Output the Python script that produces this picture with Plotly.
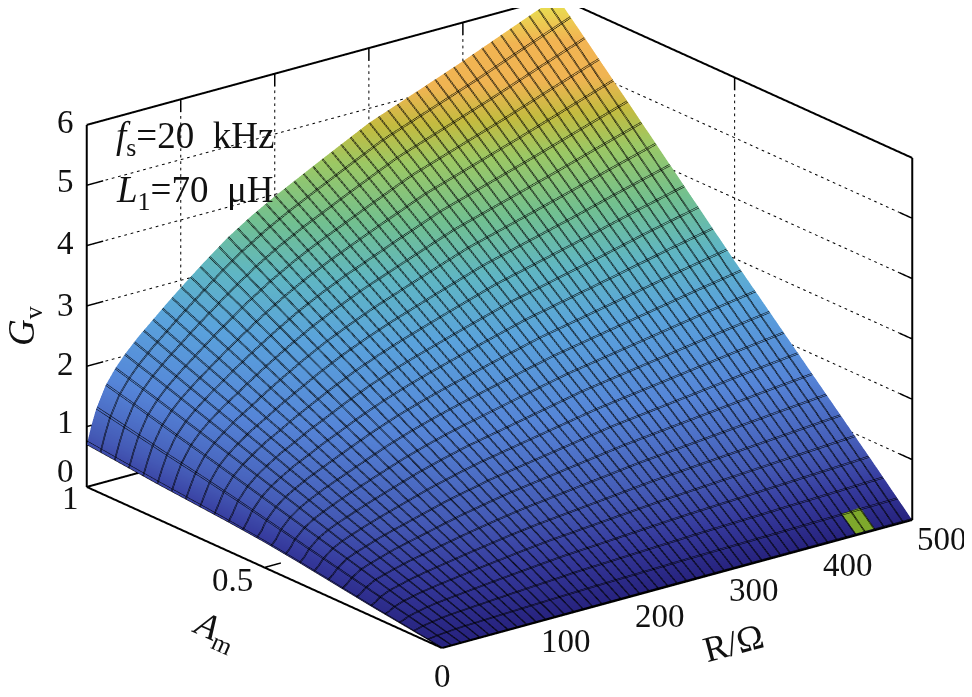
import plotly.graph_objects as go

# Values
r_values = [0, 5, 10, 20, 30, 40, 55, 70, 85, 100, 125, 150, 175, 200, 250, 300, 350, 400, 450, 500]
am_values = [0, 0.1, 0.2, 0.3, 0.4, 0.5, 0.6, 0.7, 0.8, 0.9, 1.0]
gv_rows = [
    [0] * 20,
    [0.08, 0.10, 0.13, 0.16, 0.19, 0.21, 0.23, 0.25, 0.27, 0.29, 0.32, 0.35, 0.38, 0.40, 0.44, 0.48, 0.51, 0.54, 0.57, 0.60],
    [0.16, 0.20, 0.26, 0.33, 0.37, 0.41, 0.46, 0.50, 0.54, 0.58, 0.64, 0.70, 0.75, 0.79, 0.87, 0.95, 1.01, 1.07, 1.13, 1.19],
    [0.25, 0.31, 0.39, 0.50, 0.56, 0.61, 0.69, 0.75, 0.81, 0.87, 0.97, 1.05, 1.13, 1.19, 1.31, 1.43, 1.52, 1.61, 1.70, 1.78],
    [0.34, 0.41, 0.52, 0.66, 0.75, 0.82, 0.91, 1.00, 1.08, 1.16, 1.29, 1.40, 1.50, 1.58, 1.74, 1.90, 2.02, 2.14, 2.26, 2.37],
    [0.42, 0.51, 0.65, 0.82, 0.94, 1.03, 1.15, 1.25, 1.35, 1.45, 1.61, 1.75, 1.87, 1.98, 2.18, 2.37, 2.52, 2.67, 2.82, 2.96],
    [0.48, 0.62, 0.78, 0.98, 1.12, 1.23, 1.38, 1.50, 1.63, 1.74, 1.93, 2.10, 2.25, 2.38, 2.62, 2.85, 3.03, 3.21, 3.40, 3.57],
    [0.53, 0.72, 0.90, 1.14, 1.30, 1.43, 1.60, 1.74, 1.89, 2.03, 2.25, 2.45, 2.62, 2.78, 3.06, 3.33, 3.54, 3.75, 3.97, 4.18],
    [0.58, 0.81, 1.01, 1.29, 1.48, 1.63, 1.82, 1.99, 2.16, 2.32, 2.57, 2.80, 3.00, 3.18, 3.50, 3.81, 4.05, 4.29, 4.54, 4.79],
    [0.64, 0.90, 1.13, 1.45, 1.66, 1.83, 2.04, 2.23, 2.42, 2.60, 2.89, 3.15, 3.38, 3.58, 3.94, 4.29, 4.56, 4.83, 5.12, 5.40],
    [0.70, 1.00, 1.25, 1.60, 1.83, 2.02, 2.26, 2.47, 2.68, 2.88, 3.20, 3.50, 3.75, 3.97, 4.37, 4.76, 5.06, 5.36, 5.68, 6.00],
]
patch_r = [440, 450, 460]
patch_am = [0, 0.04]
patch_gv = [[0.02, 0.02, 0.02], [0.25, 0.26, 0.27]]

r_ticks = [0, 100, 200, 300, 400, 500]
am_ticks = [0, 0.5, 1]
am_labels = ["", "0.5", "1"]
gv_ticks = [0, 1, 2, 3, 4, 5, 6]

colors = [
    [0.00, "#27237f"], [0.07, "#35399c"], [0.14, "#4459b5"], [0.28, "#5585d8"],
    [0.42, "#5aa3dc"], [0.52, "#5fb6c4"], [0.62, "#72c090"], [0.72, "#9cc864"],
    [0.79, "#c4bb40"], [0.85, "#f0b452"], [0.92, "#f2b452"], [1.00, "#e6e650"],
]

RMIN, RMAX = r_ticks[0], r_ticks[-1]
AMIN, AMAX = am_ticks[0], am_ticks[-1]
ZMIN, ZMAX = gv_ticks[0], gv_ticks[-1]
MESH = "#000000"
MESH_W = 3
FLAT = dict(ambient=1, diffuse=0, specular=0, fresnel=0, roughness=1)

fig = go.Figure()
fig.add_trace(go.Surface(
    x=r_values, y=am_values, z=gv_rows, cmin=0, cmax=6, colorscale=colors, showscale=False,
    hoverinfo="skip", lighting=FLAT,
    contours=dict(
        x=dict(show=True, start=0, end=500, size=10, color=MESH, width=MESH_W, highlight=False),
        y=dict(show=True, start=0, end=1, size=0.04, color=MESH, width=MESH_W, highlight=False),
        z=dict(show=False, highlight=False),
    ),
))
# WebGL draws contour lines one pixel wide: a contour-only copy, slightly offset, makes them bolder.
fig.add_trace(go.Surface(
    x=r_values, y=am_values, z=gv_rows, cmin=0, cmax=6, colorscale=colors, showscale=False,
    hoverinfo="skip", lighting=FLAT, hidesurface=True,
    contours=dict(
        x=dict(show=True, start=0.9, end=500, size=10, color=MESH, width=MESH_W, highlight=False),
        y=dict(show=True, start=0.0025, end=1, size=0.04, color=MESH, width=MESH_W, highlight=False),
        z=dict(show=False, highlight=False),
    ),
))
fig.add_trace(go.Surface(
    x=patch_r, y=patch_am, z=patch_gv, showscale=False, hoverinfo="skip",
    colorscale=[[0, "#7ea82c"], [1, "#7ea82c"]], lighting=FLAT,
    contours=dict(x=dict(show=True, start=440, end=460, size=10, color=MESH, width=MESH_W, highlight=False),
                  y=dict(show=True, start=0, end=0.04, size=0.04, color=MESH, width=MESH_W, highlight=False),
                  z=dict(show=False, highlight=False)),
))


def segs(lines):
    xs, ys, zs = [], [], []
    for a, b in lines:
        xs += [a[0], b[0], None]
        ys += [a[1], b[1], None]
        zs += [a[2], b[2], None]
    return xs, ys, zs


def add_lines(lines, width=2):
    xs, ys, zs = segs(lines)
    fig.add_trace(go.Scatter3d(x=xs, y=ys, z=zs, mode="lines", hoverinfo="skip", showlegend=False,
                               line=dict(color="black", width=width)))


def dots(a, b, n):
    out = []
    for i in range(n):
        t0 = i / n
        t1 = (i + 0.42) / n
        out.append((tuple(p + (q - p) * t0 for p, q in zip(a, b)),
                    tuple(p + (q - p) * t1 for p, q in zip(a, b))))
    return out


# Box: floor and the two back walls
box = [
    ((RMIN, AMIN, ZMIN), (RMAX, AMIN, ZMIN)), ((RMIN, AMIN, ZMIN), (RMIN, AMAX, ZMIN)),
    ((RMIN, AMAX, ZMIN), (RMAX, AMAX, ZMIN)), ((RMAX, AMIN, ZMIN), (RMAX, AMAX, ZMIN)),
    ((RMIN, AMAX, ZMIN), (RMIN, AMAX, ZMAX)), ((RMAX, AMIN, ZMIN), (RMAX, AMIN, ZMAX)),
    ((RMAX, AMAX, ZMIN), (RMAX, AMAX, ZMAX)),
    ((RMIN, AMAX, ZMAX), (RMAX, AMAX, ZMAX)), ((RMAX, AMIN, ZMAX), (RMAX, AMAX, ZMAX)),
]
add_lines(box, width=4)

grid, stubs = [], []
ds = 0.035
for g in gv_ticks[1:-1]:
    grid += dots((RMIN, AMAX, g), (RMAX, AMAX, g), 75)
    grid += dots((RMAX, AMIN, g), (RMAX, AMAX, g), 60)
    stubs.append(((RMIN, AMAX, g), (RMIN + ds * RMAX, AMAX, g)))
    stubs.append(((RMAX, AMIN, g), (RMAX, AMIN + ds, g)))
for r in r_ticks[1:-1]:
    grid += dots((r, AMAX, ZMIN), (r, AMAX, ZMAX), 56)
    stubs.append(((r, AMAX, ZMAX), (r, AMAX, ZMAX - ds * ZMAX)))
    stubs.append(((r, AMIN, ZMIN), (r, AMIN + ds, ZMIN)))
for a in am_ticks[1:-1]:
    grid += dots((RMAX, a, ZMIN), (RMAX, a, ZMAX), 56)
    stubs.append(((RMAX, a, ZMAX), (RMAX, a, ZMAX - ds * ZMAX)))
    stubs.append(((RMIN, a, ZMIN), (RMIN + ds * RMAX, a, ZMIN)))
add_lines(grid, width=2)
add_lines(stubs, width=3)

axis = dict(showbackground=False, showgrid=False, zeroline=False, showline=False, ticks="",
            showspikes=False, showticklabels=False, title=dict(text=""), autorange=False)


def tick(x, y, z, text, dx, dy):
    return dict(x=x, y=y, z=z, text=text, showarrow=False, xshift=dx, yshift=dy,
                font=dict(family="Liberation Serif", size=33, color="#111111"))


z_nudge = {0: 16, 1: 5, 2: 2, 3: 1, 4: 3, 5: 4, 6: 3}
tick_notes = (
    [tick(r, AMIN, ZMIN, str(r), 30, -19) for r in r_ticks[1:]]
    + [tick(RMIN, AMIN, ZMIN, "0", 0, -28)]
    + [tick(RMIN, 0.5, ZMIN, "0.5", -32, -13), tick(RMIN, 1, ZMIN, "1", -16, -11)]
    + [tick(RMIN, AMAX, g, str(g), -21, z_nudge[g]) for g in gv_ticks]
)

SCALE = 1.707
CENTER = dict(x=-0.0335, y=-0.0175, z=-0.0915)
scene = dict(
    domain=dict(x=[0, 1], y=[0, 1]),
    xaxis=dict(axis, range=[RMIN, RMAX]),
    yaxis=dict(axis, range=[AMIN, AMAX]),
    zaxis=dict(axis, range=[ZMIN, ZMAX]),
    aspectmode="manual",
    aspectratio=dict(x=1 * SCALE, y=0.975 * SCALE, z=0.65 * SCALE),
    camera=dict(projection=dict(type="orthographic"), up=dict(x=0, y=0, z=1),
                eye=dict(x=-0.5736 * 3 + CENTER["x"], y=-0.7401 * 3 + CENTER["y"], z=0.3514 * 3 + CENTER["z"]),
                center=CENTER),
    annotations=tick_notes,
)


def note(x, y, text, angle=0, size=33, anchor="center"):
    return dict(x=x / 972, y=1 - y / 697, xref="paper", yref="paper", text=text, showarrow=False,
                textangle=angle, xanchor=anchor, yanchor="middle",
                font=dict(family="Liberation Serif", size=size, color="#111111"))


fig.update_layout(
    width=972, height=697, margin=dict(l=0, r=0, t=0, b=0), paper_bgcolor="white", showlegend=False,
    scene=scene,
    annotations=[
        note(106, 130, "<i>f</i><sub>s</sub>=20\u2002kHz", size=37, anchor="left"),
        note(106, 185, "<i>L</i><sub>1</sub>=70\u2002μH", size=37, anchor="left"),
        note(16, 318, "<i>G</i><sub>v</sub>", angle=-90, size=37),
        note(207, 623, "<i>A</i><sub>m</sub>", angle=24, size=36),
        note(725, 635, "R/Ω", angle=-15, size=36),
    ],
)
fig.write_html("out.html")
